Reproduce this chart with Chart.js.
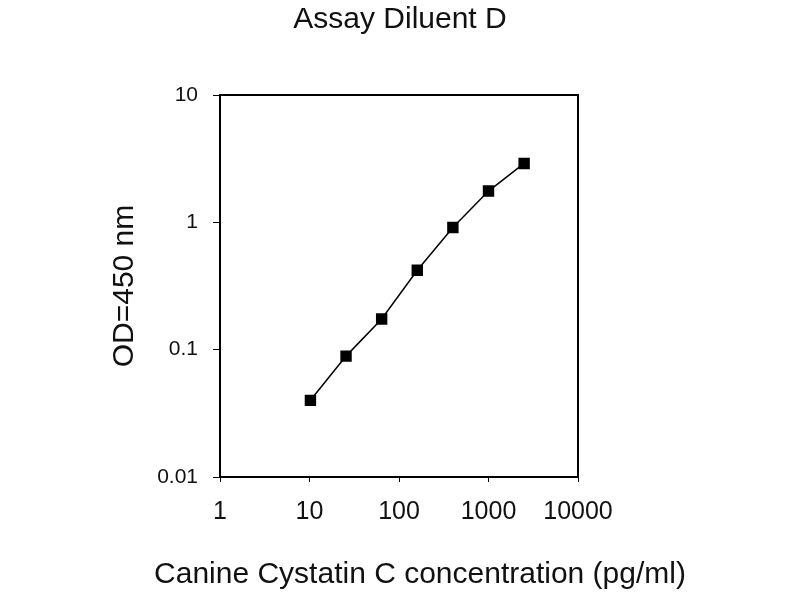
<!DOCTYPE html>
<html>
<head>
<meta charset="utf-8">
<script src="https://cdn.jsdelivr.net/npm/chart.js@4/dist/chart.umd.min.js"></script>
<style>
  html, body { margin: 0; padding: 0; background: #fff; }
  #wrap { width: 800px; height: 600px; }
</style>
</head>
<body>
<div id="wrap"><canvas id="chart"></canvas></div>
<script>
// standard curve
let concentration = [10.24, 25.6, 64, 160, 400, 1000, 2500];
let od450 = [0.04, 0.089, 0.174, 0.42, 0.91, 1.76, 2.9];
let xTicks = [1, 10, 100, 1000, 10000];
let yTicks = [0.01, 0.1, 1, 10];

let font = 'Arial, "Liberation Sans", sans-serif';

// box round the plot area, plus the x axis title (it sits right of the axis centre)
let framePlugin = {
  id: 'frame',
  afterDraw: function(chart) {
    let ctx = chart.ctx;
    let a = chart.chartArea;
    ctx.save();
    ctx.strokeStyle = '#000';
    ctx.lineWidth = 2;
    ctx.strokeRect(a.left, a.top, a.right - a.left, a.bottom - a.top);
    ctx.fillStyle = '#111';
    ctx.font = '30px ' + font;
    ctx.textAlign = 'center';
    ctx.textBaseline = 'middle';
    ctx.fillText('Canine Cystatin C concentration (pg/ml)', 420, 575);
    ctx.restore();
  }
};

let points = concentration.map(function(c, i) {
  return { x: c, y: od450[i] };
});

new Chart(document.getElementById('chart'), {
  type: 'line',
  data: {
    datasets: [
      {
        data: points,
        borderColor: '#000',
        borderWidth: 1.5,
        backgroundColor: '#000',
        pointStyle: 'rect',
        pointRadius: 7,
        pointHoverRadius: 7,
        tension: 0
      }
    ]
  },
  options: {
    responsive: true,
    maintainAspectRatio: false,
    animation: false,
    layout: { padding: 0 },
    plugins: {
      legend: { display: false },
      tooltip: { enabled: false },
      title: {
        display: true,
        text: 'Assay Diluent D',
        color: '#111',
        font: { family: font, size: 30, weight: 'normal' },
        padding: { top: 2, bottom: 57 }
      }
    },
    scales: {
      x: {
        type: 'logarithmic',
        min: 1,
        max: 10000,
        afterBuildTicks: function(scale) {
          scale.ticks = xTicks.map(function(v) { return { value: v }; });
        },
        afterFit: function(scale) { scale.height = 123; },
        ticks: {
          color: '#111',
          font: { family: font, size: 25 },
          padding: 15,
          maxRotation: 0,
          autoSkip: false,
          callback: function(v) { return String(v); }
        },
        grid: { drawOnChartArea: false, drawTicks: true, tickLength: 5, color: '#000' },
        border: { display: true, color: '#000', width: 2 }
      },
      y: {
        type: 'logarithmic',
        min: 0.01,
        max: 10,
        afterBuildTicks: function(scale) {
          scale.ticks = yTicks.map(function(v) { return { value: v }; });
        },
        afterFit: function(scale) { scale.width = 220; },
        ticks: {
          color: '#111',
          font: { family: font, size: 21 },
          padding: 15,
          autoSkip: false,
          callback: function(v) { return String(v); }
        },
        grid: { drawOnChartArea: false, drawTicks: true, tickLength: 7, color: '#000' },
        border: { display: true, color: '#000', width: 2 },
        title: {
          display: true,
          text: 'OD=450 nm',
          color: '#111',
          font: { family: font, size: 30 },
          padding: { top: 107, bottom: 0 }
        }
      },
      // empty space on the right, keeps the title centred on the page
      yRight: {
        position: 'right',
        display: true,
        afterFit: function(scale) { scale.width = 222; },
        ticks: { display: false },
        grid: { display: false },
        border: { display: false }
      }
    }
  },
  plugins: [framePlugin]
});
</script>
</body>
</html>
